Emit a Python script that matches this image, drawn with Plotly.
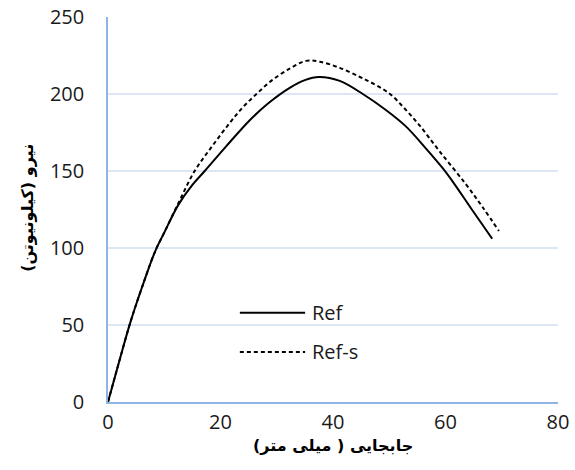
import plotly.graph_objects as go

# Load–displacement curves (displacement in mm, force in kN)
ref_x = [0, 2, 4, 6, 8.4, 10, 12.5, 15, 17.2, 21, 25.2, 28.5, 32.3, 35, 37.5,
         41.2, 45.3, 49.4, 53, 56.5, 59.5, 61.5, 64.5, 68.3]
ref_y = [0, 26.5, 52, 74, 98, 110, 128, 141, 150, 166, 183, 194, 204, 209, 211,
         208.5, 200, 189.6, 178.8, 164.7, 151.8, 142, 126, 106]

refs_x = [0, 2, 4, 6, 8.4, 10, 12.5, 15.4, 18.5, 21.6, 24, 26.4, 29, 32.3, 35.2,
          37.6, 41.2, 44.7, 46.5, 48.5, 50.3, 52.5, 55.3, 58.9, 63.6, 66.7, 69.5]
refs_y = [0, 26.5, 52, 74, 98, 110, 129, 150, 166, 181, 191.5, 200, 208.5, 216.5, 221.5,
          221, 217, 211.2, 208, 204, 199.5, 191.5, 180, 163, 141.5, 126, 111]

series = [
    ("Ref", ref_x, ref_y, "solid"),
    ("Ref-s", refs_x, refs_y, "4px,3px"),
]

x_ticks = [0, 20, 40, 60, 80]
y_ticks = [0, 50, 100, 150, 200, 250]
x_title = "جابجایی ( میلی متر)"
y_title = "نیرو (کیلونیوتن)"

AXIS_BLUE = "#8EB4E3"
GRID_BLUE = "#DCE6F4"
TICK_FONT = dict(family="Open Sans, Lato, sans-serif", size=20, color="#1a1a1a")
TITLE_FONT = dict(family="DejaVu Sans, sans-serif", size=16, color="#000000",
                  weight="bold")

fig = go.Figure()
for name, xs, ys, dash in series:
    fig.add_trace(go.Scatter(
        x=xs, y=ys, name=name, mode="lines",
        line=dict(color="black", width=2, dash=dash, shape="spline", smoothing=1.0),
        showlegend=False,
    ))

# Legend drawn inside the plot area with long line samples
legend_x0, legend_x1 = 0.293, 0.438
legend_rows = [0.232, 0.13]
for (name, xs, ys, dash), yy in zip(series, legend_rows):
    fig.add_shape(type="line", xref="paper", yref="paper",
                  x0=legend_x0, x1=legend_x1, y0=yy, y1=yy,
                  line=dict(color="black", width=2, dash=dash))
    fig.add_annotation(xref="paper", yref="paper", x=legend_x1 + 0.01, y=yy,
                       text=name, showarrow=False, xanchor="left", yanchor="middle",
                       font=TICK_FONT)

# Axis titles
fig.add_annotation(xref="paper", yref="paper", x=0.5, y=-0.112,
                   text=x_title, showarrow=False, xanchor="center",
                   yanchor="middle", font=TITLE_FONT)
fig.add_annotation(xref="paper", yref="paper", x=-0.178, y=0.504,
                   text=y_title, showarrow=False, textangle=-90,
                   xanchor="center", yanchor="middle", font=TITLE_FONT)

fig.update_layout(
    width=575, height=470,
    margin=dict(l=108, r=17, t=17, b=68),
    paper_bgcolor="white", plot_bgcolor="white",
    xaxis=dict(
        range=[0, 80], tickvals=x_ticks, showgrid=False, automargin=False,
        showline=True, linecolor=AXIS_BLUE, linewidth=1.5,
        zeroline=False, ticks="", tickfont=TICK_FONT, ticklabelstandoff=1,
    ),
    yaxis=dict(
        range=[0, 250], tickvals=y_ticks, showgrid=True, gridcolor=GRID_BLUE,
        gridwidth=1.5, showline=True, linecolor=AXIS_BLUE, linewidth=1.5,
        automargin=False,
        zeroline=False, ticks="", tickfont=TICK_FONT, ticklabelstandoff=18,
    ),
)

fig.write_html("out.html")
